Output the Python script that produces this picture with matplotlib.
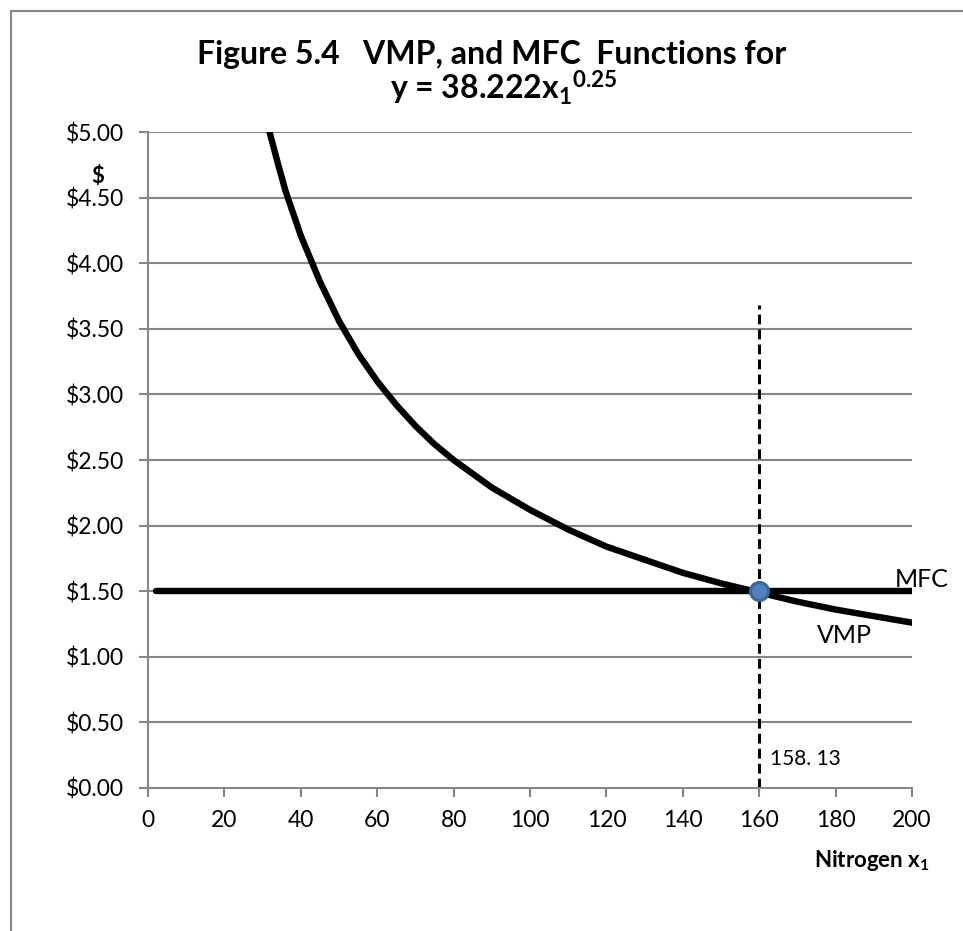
import matplotlib
matplotlib.use('Agg')
import matplotlib.pyplot as plt
from matplotlib.lines import Line2D

plt.rcParams['font.family'] = ['Lato', 'DejaVu Sans']
plt.rcParams['mathtext.fontset'] = 'custom'
plt.rcParams['mathtext.rm'] = 'Lato'
plt.rcParams['mathtext.it'] = 'Lato'
plt.rcParams['mathtext.bf'] = 'Lato:bold'

# VMP curve
nitrogen = [30, 32, 34, 36, 38, 40, 45, 50, 55, 60, 65, 70, 75, 80, 90, 100,
            110, 120, 130, 140, 150, 160, 170, 180, 190, 200]
vmp = [5.20, 4.98, 4.76, 4.55, 4.38, 4.21, 3.86, 3.56, 3.31, 3.10, 2.92, 2.76,
       2.62, 2.50, 2.29, 2.12, 1.97, 1.84, 1.74, 1.64, 1.56, 1.49, 1.42, 1.36,
       1.31, 1.26]

# MFC (price of nitrogen) is flat
mfc_x = [2.1, 200]
mfc_y = [1.5, 1.5]

# optimum point and the dashed marker line
opt_x = 160
opt_y = 1.5
dash_top = 3.68
opt_label = '158. 13'

yticks = [0, 0.5, 1.0, 1.5, 2.0, 2.5, 3.0, 3.5, 4.0, 4.5, 5.0]
xticks = [0, 20, 40, 60, 80, 100, 120, 140, 160, 180, 200]

grey = '#868686'

fig = plt.figure(figsize=(9.63, 9.31), dpi=100)
ax = fig.add_axes([0.1537, 0.1536, 0.7934, 0.7046])

for yv in yticks[1:]:
    ax.axhline(yv, color=grey, lw=1.5, zorder=1)

ax.plot(nitrogen, vmp, color='black', lw=4.6, solid_capstyle='round', zorder=3)
ax.plot(mfc_x, mfc_y, color='black', lw=4.6, solid_capstyle='round', zorder=3)
ax.plot([opt_x, opt_x], [0, dash_top], color='black', lw=2.2,
        linestyle=(0, (3.2, 1.7)), zorder=2)
ax.plot([opt_x], [opt_y], marker='o', markersize=13, markerfacecolor='#4f81bd',
        markeredgecolor='#3b6698', markeredgewidth=2.2, zorder=4)

ax.set_xlim(0, 200)
ax.set_ylim(0, 5)
ax.set_xticks(xticks)
ax.set_yticks(yticks)
ax.set_yticklabels(['$%.2f' % v for v in yticks])
ax.tick_params(axis='both', colors=grey, labelcolor='black', labelsize=16.5,
               width=1.5, length=6.5)
ax.tick_params(axis='y', pad=11)
ax.tick_params(axis='x', pad=9)

for s in ['top', 'right']:
    ax.spines[s].set_visible(False)
for s in ['left', 'bottom']:
    ax.spines[s].set_color(grey)
    ax.spines[s].set_linewidth(1.5)

ax.text(195.5, 1.53, 'MFC', fontsize=18, ha='left', va='baseline')
ax.text(175.1, 1.104, 'VMP', fontsize=18, ha='left', va='baseline')
ax.text(162.8, 0.22, opt_label, fontsize=15, ha='left', va='center')

fig.text(0.1018, 0.810, '$', fontsize=16, fontweight='bold', ha='center', va='center')
fig.text(0.905, 0.0687, r'Nitrogen x$_\mathbf{1}$', fontsize=16, fontweight='bold',
         ha='center', va='baseline')

fig.text(0.511, 0.9315, 'Figure 5.4   VMP, and MFC  Functions for', fontsize=23,
         fontweight='bold', ha='center', va='baseline')
fig.text(0.5234, 0.8926, r'y = 38.222x$_\mathbf{1}$$^\mathbf{0.25}$', fontsize=23,
         fontweight='bold', ha='center', va='baseline')

# chart border (top and left edges visible)
fig.add_artist(Line2D([0.0114, 1.0], [0.988, 0.988], transform=fig.transFigure,
                      color=grey, lw=1.5))
fig.add_artist(Line2D([0.0114, 0.0114], [0.0, 0.988], transform=fig.transFigure,
                      color=grey, lw=1.5))

fig.savefig('out.png', dpi=100)
